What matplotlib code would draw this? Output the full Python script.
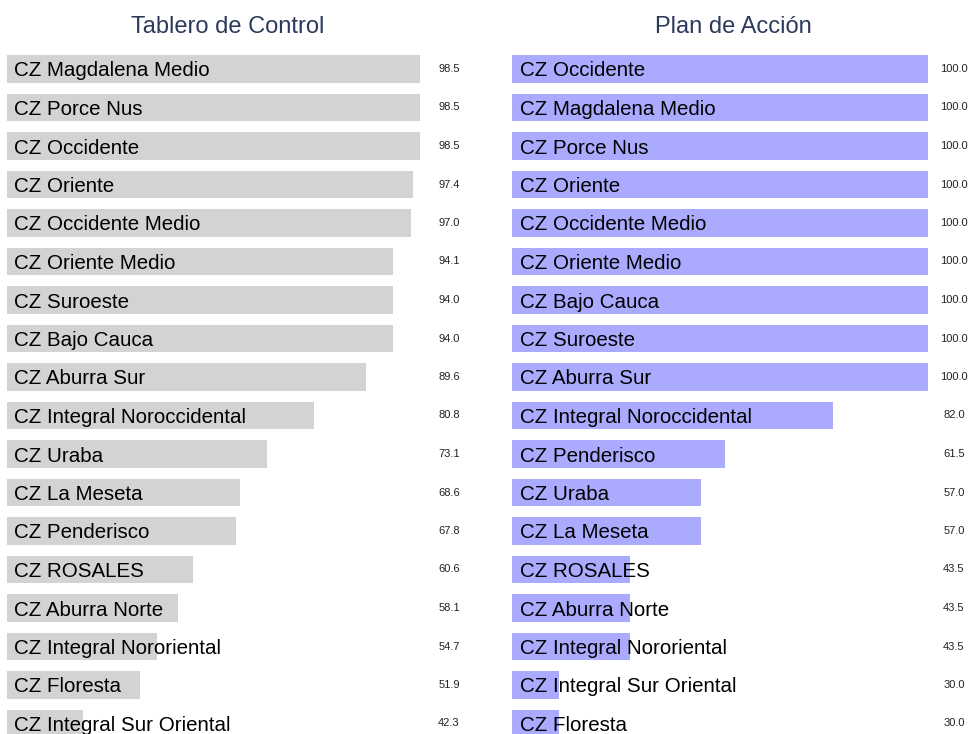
import matplotlib
matplotlib.use('Agg')
import matplotlib.pyplot as plt

plt.rcParams['font.family'] = ['Liberation Sans', 'DejaVu Sans']

tablero_names = ['CZ Magdalena Medio', 'CZ Porce Nus', 'CZ Occidente', 'CZ Oriente',
                 'CZ Occidente Medio', 'CZ Oriente Medio', 'CZ Suroeste', 'CZ Bajo Cauca',
                 'CZ Aburra Sur', 'CZ Integral Noroccidental', 'CZ Uraba', 'CZ La Meseta',
                 'CZ Penderisco', 'CZ ROSALES', 'CZ Aburra Norte', 'CZ Integral Nororiental',
                 'CZ Floresta', 'CZ Integral Sur Oriental']
tablero_vals = [98.5, 98.5, 98.5, 97.4, 97.0, 94.1, 94.0, 94.0, 89.6, 80.8, 73.1, 68.6,
                67.8, 60.6, 58.1, 54.7, 51.9, 42.3]

plan_names = ['CZ Occidente', 'CZ Magdalena Medio', 'CZ Porce Nus', 'CZ Oriente',
              'CZ Occidente Medio', 'CZ Oriente Medio', 'CZ Bajo Cauca', 'CZ Suroeste',
              'CZ Aburra Sur', 'CZ Integral Noroccidental', 'CZ Penderisco', 'CZ Uraba',
              'CZ La Meseta', 'CZ ROSALES', 'CZ Aburra Norte', 'CZ Integral Nororiental',
              'CZ Integral Sur Oriental', 'CZ Floresta']
plan_vals = [100.0, 100.0, 100.0, 100.0, 100.0, 100.0, 100.0, 100.0, 100.0, 82.0, 61.5,
             57.0, 57.0, 43.5, 43.5, 43.5, 30.0, 30.0]

W, H = 969, 734
fig = plt.figure(figsize=(W / 100, H / 100), dpi=100)


def panel(left_px, names, vals, color, title):
    top_px = 49.75
    height_px = 38.5 * len(vals)
    width_px = 442
    ax = fig.add_axes([left_px / W, (H - top_px - height_px) / H, width_px / W, height_px / H])
    lo = min(vals) * 0.7
    hi = max(vals) * 1.05
    ys = list(range(len(vals)))
    ax.barh(ys, vals, height=0.72, color=color, edgecolor='none')
    ax.set_xlim(lo, hi)
    ax.set_ylim(len(vals) - 0.5, -0.5)
    for y, name, v in zip(ys, names, vals):
        ax.annotate(name, (lo, y), xytext=(7.5, 0), textcoords='offset pixels',
                    ha='left', va='center_baseline', fontsize=14.8, color='black')
        ax.text(hi, y, '%.1f' % v, ha='center', va='center', fontsize=8, color='#222222')
    ax.axis('off')
    fig.text((left_px + width_px / 2) / W, (H - 33) / H, title, ha='center', va='baseline',
             fontsize=17, color='#2b3a5c')
    return ax


panel(7, tablero_names, tablero_vals, '#d3d3d3', 'Tablero de Control')
panel(512, plan_names, plan_vals, '#aaaaff', 'Plan de Acción')

fig.savefig('out.png', dpi=100)
